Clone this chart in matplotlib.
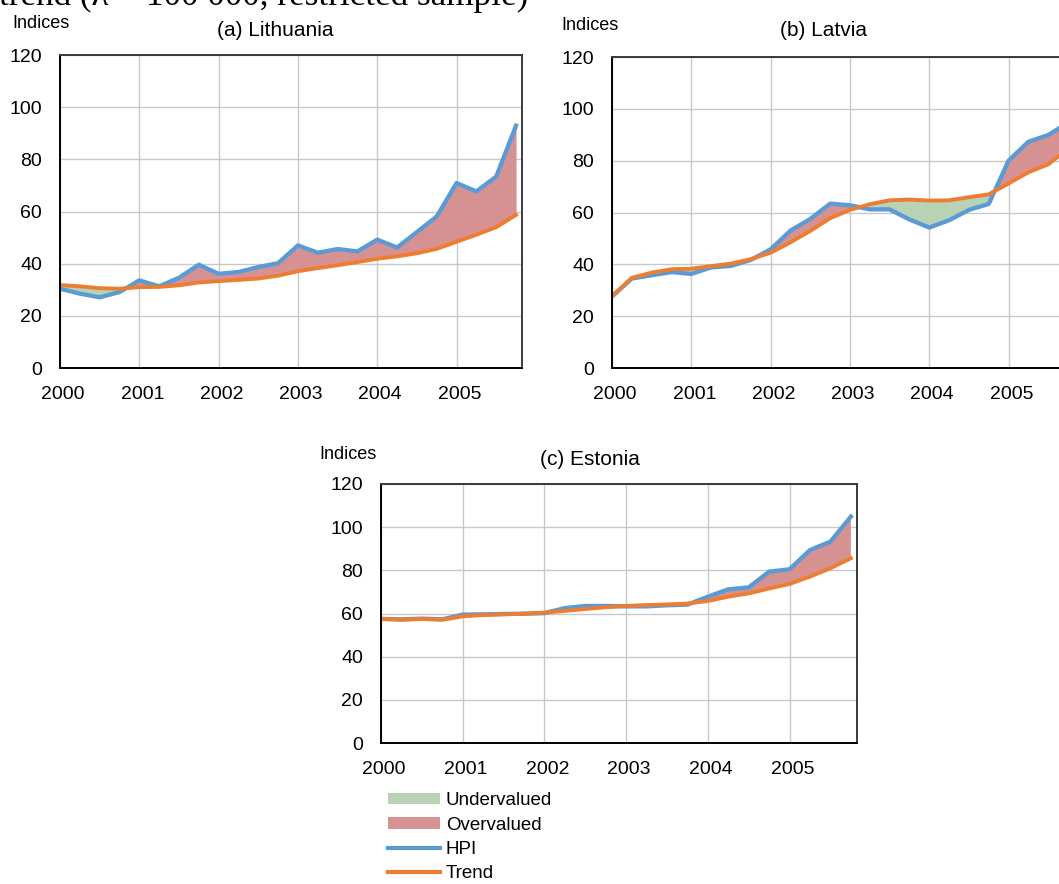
import numpy as np
import matplotlib.pyplot as plt
from matplotlib import font_manager
from matplotlib.patches import Patch
from matplotlib.lines import Line2D
import matplotlib.transforms as mtransforms

W, H = 1059, 884

# quarterly observations, 2000Q1 .. 2005Q4
quarters = np.arange(24)
year_ticks = [0, 4, 8, 12, 16, 20]
year_labels = ['2000', '2001', '2002', '2003', '2004', '2005']

lt_hpi = [30.4, 28.5, 27.1, 29.1, 33.6, 31.3, 34.6, 39.6, 36.1, 36.8, 38.7, 40.2,
          47.0, 44.2, 45.6, 44.7, 49.2, 46.2, 52.1, 58.1, 70.9, 67.7, 73.4, 92.9]
lt_trend = [31.8, 31.3, 30.6, 30.4, 31.0, 31.1, 31.7, 32.8, 33.3, 33.8, 34.3, 35.4,
            37.1, 38.3, 39.4, 40.6, 41.9, 42.8, 44.0, 45.7, 48.4, 51.1, 54.0, 58.7]

lv_hpi = [27.6, 34.5, 35.8, 37.0, 36.3, 38.8, 39.4, 41.7, 45.8, 53.0, 57.5, 63.4,
          62.8, 61.2, 61.2, 57.3, 54.2, 57.0, 61.0, 63.3, 80.0, 87.3, 89.9, 94.6]
lv_trend = [27.6, 34.8, 36.8, 38.1, 38.3, 39.3, 40.3, 42.0, 44.5, 48.5, 52.9, 57.8,
            61.0, 63.2, 64.7, 65.0, 64.6, 64.7, 65.9, 67.0, 71.2, 75.5, 78.6, 84.5]

ee_hpi = [57.5, 57.3, 57.6, 57.3, 59.5, 59.6, 59.8, 59.9, 60.2, 62.5, 63.5, 63.5,
          63.3, 63.3, 63.8, 64.1, 67.8, 71.2, 72.1, 79.4, 80.5, 89.4, 93.3, 104.9]
ee_trend = [57.5, 57.1, 57.5, 57.1, 58.7, 59.3, 59.6, 59.9, 60.4, 61.2, 62.1, 62.9,
            63.5, 63.9, 64.2, 64.6, 65.8, 67.8, 69.3, 71.6, 73.7, 77.1, 81.0, 85.6]

HPI_COLOR = '#5B9BD5'
TREND_COLOR = '#ED7D31'
UNDER_COLOR = '#B9D1B5'
OVER_COLOR = '#D69292'

# prefer a narrow sans if one is installed
narrow = []
for name in ['Liberation Sans Narrow', 'DejaVu Sans Condensed']:
    try:
        font_manager.findfont(name, fallback_to_default=False)
        narrow.append(name)
    except ValueError:
        pass
has_narrow = bool(narrow)
plt.rcParams['font.family'] = narrow + ['Liberation Sans', 'DejaVu Sans']

tick_size = 15 if has_narrow else 14
fig = plt.figure(figsize=(W / 100, H / 100), dpi=100)


def px_box(left, top, right, bottom):
    return [left / W, 1 - bottom / H, (right - left) / W, (bottom - top) / H]


def fig_text(x, y, s, **kw):
    fig.text(x / W, 1 - y / H, s, **kw)


def draw_panel(box, hpi, trend):
    ax = fig.add_axes(box)
    hpi = np.asarray(hpi)
    trend = np.asarray(trend)
    ax.fill_between(quarters, hpi, trend, where=hpi <= trend, interpolate=True,
                    color=UNDER_COLOR, lw=0)
    ax.fill_between(quarters, hpi, trend, where=hpi >= trend, interpolate=True,
                    color=OVER_COLOR, lw=0)
    ax.plot(quarters, hpi, color=HPI_COLOR, lw=3.1)
    ax.plot(quarters, trend, color=TREND_COLOR, lw=2.8)
    ax.set_xlim(0, 23.3)
    ax.set_ylim(0, 120)
    ax.set_yticks(np.arange(0, 121, 20))
    ax.set_xticks(year_ticks)
    ax.set_xticklabels(year_labels)
    ax.grid(True, color='#C8C8C8', lw=1.0)
    ax.set_axisbelow(True)
    ax.tick_params(length=0, labelsize=tick_size)
    ax.tick_params(axis='y', pad=13)
    ax.tick_params(axis='x', pad=13)
    shift = mtransforms.ScaledTranslation(3 / 100, 0, fig.dpi_scale_trans)
    for lab in ax.get_xticklabels():
        lab.set_transform(lab.get_transform() + shift)
    for side in ['left', 'bottom']:
        ax.spines[side].set_color('black')
        ax.spines[side].set_linewidth(1.4)
    for side in ['top', 'right']:
        ax.spines[side].set_color('#3A3A3A')
        ax.spines[side].set_linewidth(1.4)
    return ax


draw_panel(px_box(60, 55, 522, 368), lt_hpi, lt_trend)
draw_panel(px_box(612, 57, 1074, 368), lv_hpi, lv_trend)
draw_panel(px_box(381, 484, 857, 743), ee_hpi, ee_trend)

title_kw = dict(ha='center', va='center', fontsize=15, family=['Liberation Sans', 'DejaVu Sans'])
fig_text(275, 30, '(a) Lithuania', **title_kw)
fig_text(823, 30, '(b) Latvia', **title_kw)
fig_text(590, 459, '(c) Estonia', **title_kw)

ind_kw = dict(ha='left', va='center', fontsize=14.5 if has_narrow else 13)
fig_text(12, 24, 'Indices', **ind_kw)
fig_text(561, 25, 'Indices', **ind_kw)
fig_text(319, 455, 'Indices', **ind_kw)

# caption line running off the top edge
fig_text(-1, 5, 'trend (\u03bb = 100 000, restricted sample)', ha='left', va='baseline',
         fontsize=25.3, family=['Liberation Serif', 'DejaVu Serif'])

handles = [
    Patch(facecolor=UNDER_COLOR, edgecolor='none', label='Undervalued'),
    Patch(facecolor=OVER_COLOR, edgecolor='none', label='Overvalued'),
    Line2D([], [], color=HPI_COLOR, lw=3.0, label='HPI'),
    Line2D([], [], color=TREND_COLOR, lw=3.0, label='Trend'),
]
leg_size = 15 if has_narrow else 13.5
fig.legend(handles=handles, loc='upper left', bbox_to_anchor=(388 / W, 1 - 792 / H),
           frameon=False, fontsize=leg_size, borderpad=0, borderaxespad=0,
           handlelength=52 / (leg_size * 1.389), handleheight=0.55,
           handletextpad=6 / (leg_size * 1.389), labelspacing=0.4)

fig.savefig('out.png', dpi=100)
